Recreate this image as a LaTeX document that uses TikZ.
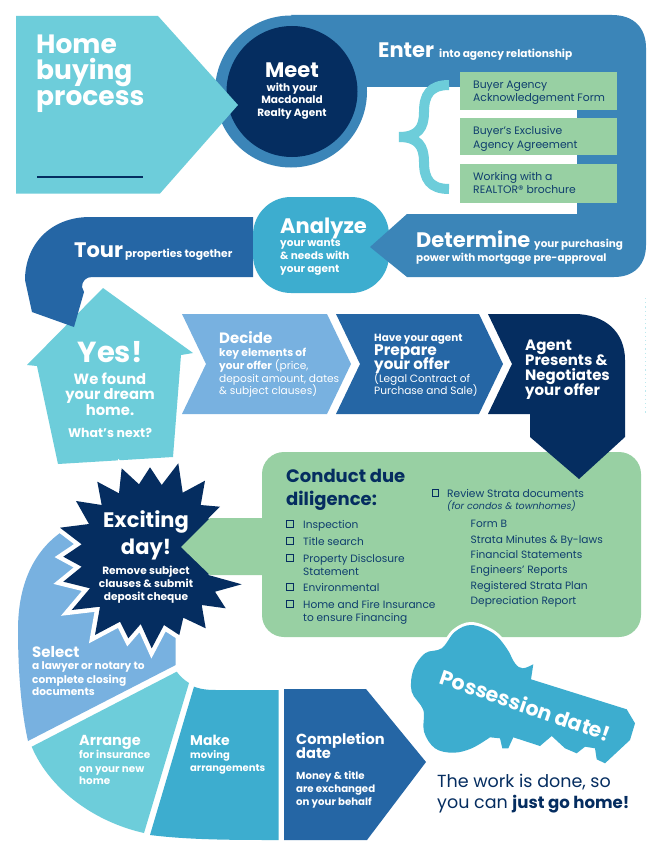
\documentclass[tikz,border=0pt]{standalone}
\usepackage{fontspec}
\setmainfont{Poppins}
\definecolor{navy}{HTML}{052D60}
\definecolor{steel}{HTML}{3B85B8}
\definecolor{teal}{HTML}{6DCDDA}
\definecolor{cyan}{HTML}{3DADCF}
\definecolor{blue}{HTML}{2566A5}
\definecolor{sky}{HTML}{78B1E0}
\definecolor{lgreen}{HTML}{98D0A3}
\definecolor{ink}{HTML}{0F3E6E}
\tikzset{
 w/.style={anchor=base west,inner sep=0pt,text=white,font=\bfseries\fontsize{#1}{#1}\selectfont},
 wc/.style={anchor=base,inner sep=0pt,text=white,font=\bfseries\fontsize{#1}{#1}\selectfont},
 wr/.style={anchor=base west,inner sep=0pt,text=white,font=\fontsize{#1}{#1}\selectfont},
 g/.style={anchor=base west,inner sep=0pt,text=ink,font=\fontsize{#1}{#1}\selectfont},
 chk/.style={draw=navy,line width=1.2pt,minimum size=6.5pt,inner sep=0pt,rectangle},
 gbox/.style={fill=lgreen,draw=none},
 starpath/.style={insert path={(121.7,468.3) -- (139,484.3) -- (150,467.3) -- (161.7,485) -- (178.3,463.3) -- (182.7,492.7) -- (205,480.7) -- (200.7,505) -- (220,506.7) -- (208.3,518.3) -- (225,545) -- (208.3,575) -- (241.7,584.3) -- (215,591.7) -- (225.7,608.3) -- (201.7,605) -- (205.7,628.3) -- (183.3,617.7) -- (179.3,635) -- (164,625) -- (151.7,648.3) -- (140.7,624) -- (128.3,638.3) -- (120,621.7) -- (95,635) -- (100,606.7) -- (71.7,610) -- (90,588.3) -- (63.3,581.7) -- (81.7,566.7) -- (63.3,556.7) -- (81.7,544.3) -- (60,527.7) -- (89,524) -- (76,501) -- (101.7,505) -- (97.3,481.7) -- (119,493.3) -- cycle}}
}
\begin{document}
\begin{tikzpicture}[x=1pt,y=-1pt]
\useasboundingbox (0,0) rectangle (662,856);
\fill[white] (0,0) rectangle (662,856);
% faint specks at the right edge
\draw[teal!45,line width=1pt,dash pattern=on 1.2pt off 3pt] (645,298) -- (645,415);
% house, tour band, analyze blob
\fill[teal] (103,288) -- (193,353) -- (181,355) -- (173,457) -- (58,464) -- (37,366) -- (27,365) -- cycle;
\fill[blue] (253,217) -- (90,217) .. controls (50,217) and (25,245) .. (25,280) -- (32,312) -- (74,327) -- (84,292) -- (82,287) .. controls (82,281) and (86,277) .. (92,277) -- (253,277) -- cycle;
\fill[cyan,rounded corners=38pt] (253,197) rectangle (389,293);
% enter band
\fill[steel] (291,15) -- (612,15) .. controls (634,15) and (646,28) .. (646,48) -- (646,245) .. controls (646,265) and (634,277) .. (614,277) -- (407,277) -- (370,247) -- (407,214) -- (577,214) -- (577,87) -- (340,87) -- cycle;
\fill[steel] (291,91.5) circle (76);
\fill[navy] (292,91.5) circle (65.5);
% home arrow
\fill[teal] (16,16) -- (158,16) -- (238,105) -- (160,193.5) -- (16,193.5) -- cycle;
\draw[navy,line width=1.2pt] (37,177) -- (143,177);
% brace
\draw[teal,line width=10pt] (449,85) .. controls (430,85) and (424,95) .. (424,112) .. controls (424,128) and (418,137) .. (399,137) .. controls (418,137) and (424,146) .. (424,162) .. controls (424,179) and (430,189) .. (449,189);
% green forms
\fill[gbox] (460,72) rectangle (617,110);
\fill[gbox] (460,118) rectangle (617,155);
\fill[gbox] (460,164) rectangle (617,203);
% chevrons
\fill[sky] (182,314) -- (327,314) -- (351,364) -- (327,414) -- (182,414) -- (206,364) -- cycle;
\fill[blue] (336,314) -- (479,314) -- (503,364) -- (479,414) -- (336,414) -- (360,364) -- cycle;
% closing segments
\fill[sky] (60,533) .. controls (30,555) and (18,590) .. (18,630) .. controls (18,670) and (21,710) .. (28,741) -- (175.7,665) -- (175.7,600) -- (120,560) -- cycle;
\fill[teal] (176.7,671.7) .. controls (180,676) and (184,680) .. (189,683) -- (144,833) .. controls (95,822) and (50,790) .. (31.7,746.7) -- cycle;
\fill[cyan] (194,686.7) .. controls (203,690) and (210,690) .. (219,690) -- (278.5,690) -- (278.5,840) .. controls (235,840) and (190,840) .. (150,835) -- cycle;
\fill[blue] (284,689) -- (366,689) -- (426,762) -- (367,840) -- (284,840) -- cycle;
% star
\draw[white,line width=9pt,miter limit=10,starpath];
\fill[navy,starpath];
% green box
\fill[lgreen,rounded corners=22pt] (262,452) rectangle (641,637);
\fill[lgreen] (264,518) -- (210,518) -- (181,547) -- (210,575) -- (264,575) -- cycle;
% agent
\fill[navy] (488,314) -- (574,314) .. controls (605,314) and (625,332) .. (625,360) -- (625,437) -- (579,479) -- (530,437) -- (530,414) -- (488,414) -- (512,364) -- cycle;
% key
\filldraw[cyan,draw=white,line width=6pt,line join=round] plot[smooth,tension=0.6] coordinates {(490,737.3) (471.7,748.3) (453.3,752.7) (435,748.3) (424,731.7) (423.3,710) (411.7,691.7) (413.3,670) (425,653.3) (441.7,648.3) (455,631.7) (471.7,625) (493.3,633.3) (506.7,648.3) (515,663.3) (522.7,668.3) (533.3,664.3)} -- (531,679.3) -- (626.7,709.3) -- (635,723.3) -- (630,740) -- (605,763.3) -- (596.7,759.3) -- (595,748.3) -- (585,746.7) -- (576.7,753.3) -- (565,748.3) -- (551.7,736) -- (540,746) -- (513.3,737.3) -- (508.3,748.3) -- (502.3,748.3) -- (500,738.3) -- cycle;
\fill[cyan,line join=round] plot[smooth,tension=0.6] coordinates {(490,737.3) (471.7,748.3) (453.3,752.7) (435,748.3) (424,731.7) (423.3,710) (411.7,691.7) (413.3,670) (425,653.3) (441.7,648.3) (455,631.7) (471.7,625) (493.3,633.3) (506.7,648.3) (515,663.3) (522.7,668.3) (533.3,664.3)} -- (531,679.3) -- (626.7,709.3) -- (635,723.3) -- (630,740) -- (605,763.3) -- (596.7,759.3) -- (595,748.3) -- (585,746.7) -- (576.7,753.3) -- (565,748.3) -- (551.7,736) -- (540,746) -- (513.3,737.3) -- (508.3,748.3) -- (502.3,748.3) -- (500,738.3) -- cycle;
% TEXT
\node[w=26.5] (t1) at (36,54) {Home};
\node[w=26.5] (t2) at (36,80) {buying};
\node[w=26.5] (t3) at (36,106) {process};
\node[wc=21] (m1) at (292,78) {Meet};
\node[wc=10.5] (m2) at (292,92) {with your};
\node[wc=10.5] (m3) at (292,104) {Macdonald};
\node[wc=10.5] (m4) at (292,117) {Realty Agent};
\node[w=21] (e1) at (378,58) {Enter};
\node[w=10.6] (e2) at (439,58) {into agency relationship};
\node[g=10.8] (f1) at (473,89) {Buyer Agency};
\node[g=10.8] (f2) at (473,102) {Acknowledgement Form};
\node[g=10.8] (f3) at (473,135) {Buyer’s Exclusive};
\node[g=10.8] (f4) at (473,148) {Agency Agreement};
\node[g=10.8] (f5) at (473,180) {Working with a};
\node[g=10.8] (f6) at (473,193) {REALTOR® brochure};
\node[w=21] (to1) at (74,257) {Tour};
\node[w=10.7] (to2) at (125,257) {properties together};
\node[w=21] (a1) at (280,233) {Analyze};
\node[w=10.5] (a2) at (280,246) {your wants};
\node[w=10.5] (a3) at (280,259) {\& needs with};
\node[w=10.5] (a4) at (280,272) {your agent};
\node[w=21] (d1) at (416,247) {Determine};
\node[w=10.4] (d2) at (534,247) {your purchasing};
\node[w=10.4] (d3) at (416,261) {power with mortgage pre-approval};
\node[wc=29] (y1) at (110,362) {Yes!};
\node[wc=14.8] (y2) at (110,384) {We found};
\node[wc=14.8] (y3) at (110,399) {your dream};
\node[wc=14.8] (y4) at (110,415) {home.};
\node[wc=12.5] (y5) at (110,437) {What’s next?};
\node[w=15] (de1) at (219,343) {Decide};
\node[w=10.7] (de2) at (219,356) {key elements of};
\node[wr=10.6] (de3) at (219,369) {\textbf{your offer} (price,};
\node[wr=10.6] (de4) at (219,382) {deposit amount, dates};
\node[wr=10.6] (de5) at (219,394) {\& subject clauses)};
\node[w=10.4] (p1) at (374,341) {Have your agent};
\node[w=15.4] (p2) at (374,355) {Prepare};
\node[w=15.2] (p3) at (374,369) {your offer};
\node[wr=10.6] (p4) at (374,382) {(Legal Contract of};
\node[wr=10.6] (p5) at (374,394) {Purchase and Sale)};
\node[w=15] (n1) at (525,350) {Agent};
\node[w=15] (n2) at (525,365) {Presents \&};
\node[w=15] (n3) at (525,380) {Negotiates};
\node[w=15] (n4) at (525,395) {your offer};
\node[anchor=base west,inner sep=0pt,text=navy,font=\bfseries\fontsize{18}{18}\selectfont] (c1) at (286,482) {Conduct due};
\node[anchor=base west,inner sep=0pt,text=navy,font=\bfseries\fontsize{18}{18}\selectfont] (c2) at (286,505) {diligence:};
\node[chk] (b0) at (435.5,493) {};
\node[g=10.7] (s0) at (447,497) {Review Strata documents};
\node[g=9.5,font=\itshape\fontsize{9.5}{9.5}\selectfont] (s1) at (447,509) {(for condos \& townhomes)};
\node[chk] (b1) at (290,524) {};
\node[g=10.6] (l1) at (303,528) {Inspection};
\node[chk] (b2) at (290,541) {};
\node[g=10.6] (l2) at (303,545) {Title search};
\node[chk] (b3) at (290,558) {};
\node[g=10.6] (l3) at (303,562) {Property Disclosure};
\node[g=10.6] (l4) at (303,575) {Statement};
\node[chk] (b4) at (290,587) {};
\node[g=10.6] (l5) at (303,591) {Environmental};
\node[chk] (b5) at (290,604) {};
\node[g=10.6] (l6) at (303,608) {Home and Fire Insurance};
\node[g=10.6] (l7) at (303,621) {to ensure Financing};
\node[g=10.6] (r1) at (470.5,527) {Form B};
\node[g=10.6] (r2) at (470.5,543) {Strata Minutes \& By-laws};
\node[g=10.6] (r3) at (470.5,558) {Financial Statements};
\node[g=10.6] (r4) at (470.5,573) {Engineers’ Reports};
\node[g=10.6] (r5) at (470.5,589) {Registered Strata Plan};
\node[g=10.6] (r6) at (470.5,604) {Depreciation Report};
\node[wc=21] (x1) at (146,527) {Exciting};
\node[wc=21] (x2) at (146,554) {day!};
\node[wc=10.6] (x3) at (146,574) {Remove subject};
\node[wc=10.6] (x4) at (146,587) {clauses \& submit};
\node[wc=10.6] (x5) at (146,600) {deposit cheque};
\node[w=15] (se1) at (32,657) {Select};
\node[w=10.6] (se2) at (32,669) {a lawyer or notary to};
\node[w=10.6] (se3) at (32,683) {complete closing};
\node[w=10.6] (se4) at (32,695) {documents};
\node[w=14.5] (ar1) at (79,745) {Arrange};
\node[w=10.4] (ar2) at (79,758) {for insurance};
\node[w=10.4] (ar3) at (79,772) {on your new};
\node[w=10.4] (ar4) at (79,784) {home};
\node[w=14] (ma1) at (190,745) {Make};
\node[w=10] (ma2) at (190,758) {moving};
\node[w=10] (ma3) at (190,771) {arrangements};
\node[w=14.6] (co1) at (296,744) {Completion};
\node[w=14.6] (co2) at (296,758) {date};
\node[w=10.2] (co3) at (296,779) {Money \& title};
\node[w=10.2] (co4) at (296,792) {are exchanged};
\node[w=10.2] (co5) at (296,805) {on your behalf};
\node[anchor=center,inner sep=0pt,text=white,rotate=-19,font=\bfseries\fontsize{20.5}{20.5}\selectfont] (k1) at (525.8,705) {Possession date!};
\node[anchor=base west,inner sep=0pt,text=navy,font=\fontsize{17.5}{17.5}\selectfont] (h1) at (437,787) {The work is done, so};
\node[anchor=base west,inner sep=0pt,text=navy,font=\fontsize{17.5}{17.5}\selectfont] (h2) at (437,808) {you can \textbf{\fontsize{16.6}{16.6}\selectfont just go home!}};
\end{tikzpicture}
\end{document}
